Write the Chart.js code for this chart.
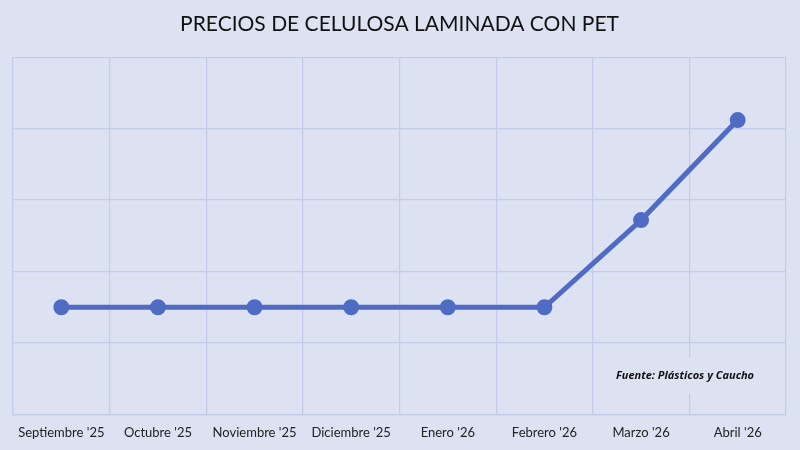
<!DOCTYPE html>
<html>
<head>
<meta charset="utf-8">
<script src="https://cdn.jsdelivr.net/npm/chart.js@4.4.1/dist/chart.umd.min.js"></script>
<style>
html,body{margin:0;padding:0;background:#dde2f3}
#wrap{width:800px;height:450px}
</style>
</head>
<body>
<div id="wrap"><canvas id="precios"></canvas></div>
<script>
// ===== datos =====
const meses=["Septiembre '25","Octubre '25","Noviembre '25","Diciembre '25","Enero '26","Febrero '26","Marzo '26","Abril '26"]
const precios=[1.5,1.5,1.5,1.5,1.5,1.5,2.72,4.12]
const titulo="PRECIOS DE CELULOSA LAMINADA CON PET"
const fuente="Fuente: Plásticos y Caucho"

const bg="#dde2f3"
const gridColor="#c3cbea"
const lineColor="#4f6bc3"

// fondo del canvas
const fondo={
id:"fondo",
beforeDraw(c){
const ctx=c.ctx
ctx.save()
ctx.fillStyle=bg
ctx.fillRect(0,0,c.width,c.height)
ctx.restore()
}
}

// recuadro con la fuente, tapa la rejilla
const nota={
id:"nota",
beforeDatasetsDraw(c){
const a=c.chartArea,ctx=c.ctx
const cx=a.right-101,cy=a.bottom-39
ctx.save()
ctx.fillStyle=bg
ctx.fillRect(cx-82,cy-18,164,36)
ctx.font="bold italic 11px 'Open Sans', sans-serif"
ctx.fillStyle="#111"
ctx.textAlign="center"
ctx.textBaseline="middle"
ctx.fillText(fuente,cx,cy)
ctx.restore()
}
}

new Chart(document.getElementById("precios"),{
type:"line",
data:{
labels:meses,
datasets:[{
data:precios,
borderColor:lineColor,
backgroundColor:lineColor,
borderWidth:5,
pointRadius:5.5,
pointHoverRadius:5.5,
tension:0
}]
},
options:{
responsive:true,
maintainAspectRatio:false,
animation:false,
layout:{padding:{left:13,right:14,top:0,bottom:-2}},
plugins:{
legend:{display:false},
tooltip:{enabled:false},
title:{
display:true,
text:titulo,
color:"#111",
font:{family:"Lato, sans-serif",size:21,weight:"normal",lineHeight:1.2},
padding:{top:12,bottom:20}
}
},
scales:{
x:{
offset:true,
grid:{offset:true,color:gridColor,lineWidth:1.2,drawTicks:false},
border:{color:gridColor,width:1.2},
ticks:{color:"#222",font:{family:"Lato, sans-serif",size:13,lineHeight:1.2},padding:11,maxRotation:0,autoSkip:false}
},
y:{
min:0,max:5,
grid:{color:gridColor,lineWidth:1.2,drawTicks:false},
border:{color:gridColor,width:1.2},
ticks:{display:false,stepSize:1}
}
}
},
plugins:[fondo,nota]
})
</script>
</body>
</html>
